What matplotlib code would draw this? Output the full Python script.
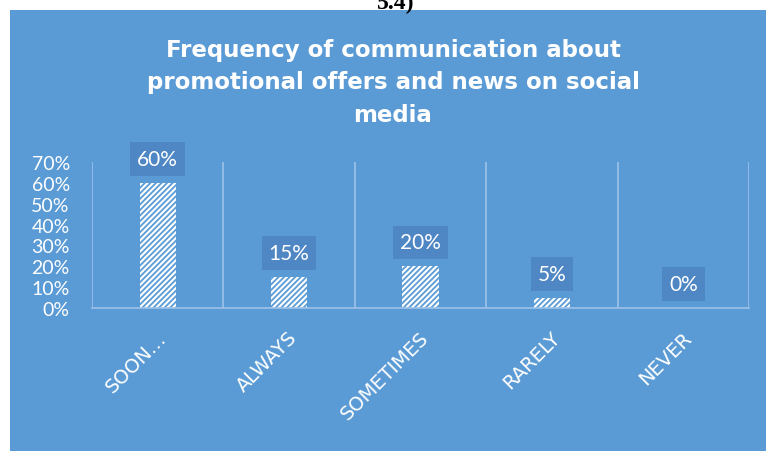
import matplotlib
matplotlib.use("Agg")
import matplotlib.pyplot as plt
from matplotlib.patches import Rectangle
from matplotlib.transforms import ScaledTranslation

categories = ["SOON…", "ALWAYS", "SOMETIMES", "RARELY", "NEVER"]
shares = [0.60, 0.15, 0.20, 0.05, 0.00]
yticks = [0.0, 0.1, 0.2, 0.3, 0.4, 0.5, 0.6, 0.7]
title = "Frequency of communication about\npromotional offers and news on social\nmedia"

bg = "#5B9BD5"
box = "#4F87C4"
grid = "#9CC2E8"

plt.rcParams["hatch.linewidth"] = 1.3


def main():
    fig = plt.figure(figsize=(7.66, 4.52), dpi=100)
    fig.patch.set_facecolor("white")

    # blue chart panel, kept under the axes
    fig.patches.append(Rectangle((10 / 766, 0), 1, 441 / 452, transform=fig.transFigure,
                                 facecolor=bg, edgecolor="none", zorder=-5))
    fig.text(396 / 766, 1 - 9 / 452, "5.4)", ha="center", va="baseline",
             fontsize=17, fontweight="bold", family="Liberation Serif", color="black")

    fig.text(393 / 766, 1 - 83 / 452, title, ha="center", va="center", color="white",
             fontsize=16.5, fontweight="bold", family="DejaVu Sans", linespacing=1.52)

    ax = fig.add_axes([92 / 766, 143 / 452, 657 / 766, 146 / 452])
    ax.set_facecolor("none")

    x = range(len(categories))
    bars = ax.bar(x, shares, width=0.275, color="white", edgecolor=bg,
                  hatch="//////", linewidth=0, zorder=2)

    for rect, v in zip(bars, shares):
        ax.annotate(f"{v:.0%}", (rect.get_x() + rect.get_width() / 2, v),
                    xytext=(0, 10), textcoords="offset points",
                    ha="center", va="bottom", color="white", fontsize=15, family="Lato",
                    bbox=dict(boxstyle="square,pad=0.33", facecolor=box, edgecolor="none"),
                    zorder=3)

    ax.set_xlim(-0.5, len(categories) - 0.5)
    ax.set_ylim(0, 0.7)
    ax.vlines([i - 0.5 for i in range(len(categories) + 1)], 0, 0.7,
              color=grid, linewidth=1.2, zorder=1)

    for s in ("top", "right", "left"):
        ax.spines[s].set_visible(False)
    ax.spines["bottom"].set_color(grid)
    ax.spines["bottom"].set_linewidth(1.2)

    ax.set_yticks(yticks)
    ax.set_yticklabels([f"{t:.0%}" for t in yticks], color="white", fontsize=14, family="Lato")
    ax.tick_params(axis="y", length=0, pad=16)

    ax.set_xticks(list(x))
    ax.set_xticklabels(categories, rotation=45, ha="right", va="top",
                       color="white", fontsize=14, family="DejaVu Sans")
    ax.tick_params(axis="x", length=0, pad=14)
    shift = ScaledTranslation(12 / 100, 0, fig.dpi_scale_trans)
    for lab in ax.get_xticklabels():
        lab.set_transform(lab.get_transform() + shift)

    fig.savefig("out.png", dpi=100, facecolor="white")
    plt.close(fig)


if __name__ == "__main__":
    main()
